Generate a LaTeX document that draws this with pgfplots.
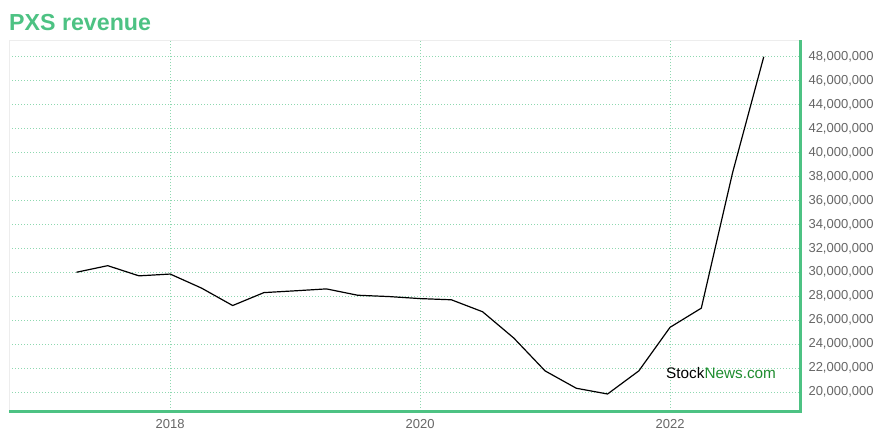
\documentclass[border=0pt]{standalone}
\usepackage{pgfplots}
\pgfplotsset{compat=1.18}
\usepackage{fontspec}
\setmainfont{Liberation Sans}
\definecolor{sngreen}{HTML}{4DC283}
\definecolor{gridgreen}{HTML}{8ED8B0}
\definecolor{labgray}{HTML}{666666}
\definecolor{wmgreen}{HTML}{1E8C2E}
\begin{document}
\begin{tikzpicture}[x=1pt,y=1pt]
\useasboundingbox (-9,-29) rectangle (871,411);
\node[anchor=base west, inner sep=0pt, text=sngreen, font=\fontsize{23.2}{26}\selectfont\bfseries] at (0,380.3) {PXS revenue};
\begin{axis}[
  at={(0,0)}, anchor=south west,
  scale only axis, width=791pt, height=371pt,
  xmin=2016.71, xmax=2023.04,
  ymin=18410000, ymax=49400000,
  axis x line*=bottom, axis y line*=right,
  axis line style={draw=none},
  xtick={2018,2020,2022},
  xticklabels={2018,2020,2022},
  ytick={20000000,22000000,24000000,26000000,28000000,30000000,32000000,34000000,36000000,38000000,40000000,42000000,44000000,46000000,48000000},
  scaled y ticks=false,
  /pgf/number format/fixed,
  /pgf/number format/1000 sep={,},
  /pgf/number format/assume math mode=true,
  yticklabel style={anchor=west, text=labgray, font=\fontsize{13}{15}\selectfont, xshift=5pt},
  xticklabel style={text=labgray, font=\fontsize{13}{15}\selectfont, yshift=-5pt},
  major tick length=0pt,
  grid=major,
  major grid style={draw=gridgreen, line width=0.9pt, dash pattern=on 0.9pt off 2.1pt},
  clip=false,
]
\draw[draw=black!7, line width=1pt] (rel axis cs:0,0) -- (rel axis cs:0,1) -- (rel axis cs:1,1);
\draw[draw=sngreen, line width=3pt] (rel axis cs:0,0) -- (rel axis cs:1,0) -- (rel axis cs:1,1);
\addplot[black, line width=1.2pt] coordinates {
(2017.25,30000000)
(2017.5,30550000)
(2017.75,29700000)
(2018.0,29850000)
(2018.25,28680000)
(2018.5,27220000)
(2018.75,28300000)
(2019.0,28450000)
(2019.25,28610000)
(2019.5,28080000)
(2019.75,27970000)
(2020.0,27800000)
(2020.25,27700000)
(2020.5,26700000)
(2020.75,24500000)
(2021.0,21760000)
(2021.25,20310000)
(2021.5,19830000)
(2021.75,21760000)
(2022.0,25400000)
(2022.25,27000000)
(2022.5,38300000)
(2022.75,48000000)
};
\node[anchor=base west, inner sep=0pt, font=\fontsize{15.3}{17}\selectfont] at (axis cs:2021.968,21110000) {Stock\textcolor{wmgreen}{News.com}};
\end{axis}
\end{tikzpicture}
\end{document}
